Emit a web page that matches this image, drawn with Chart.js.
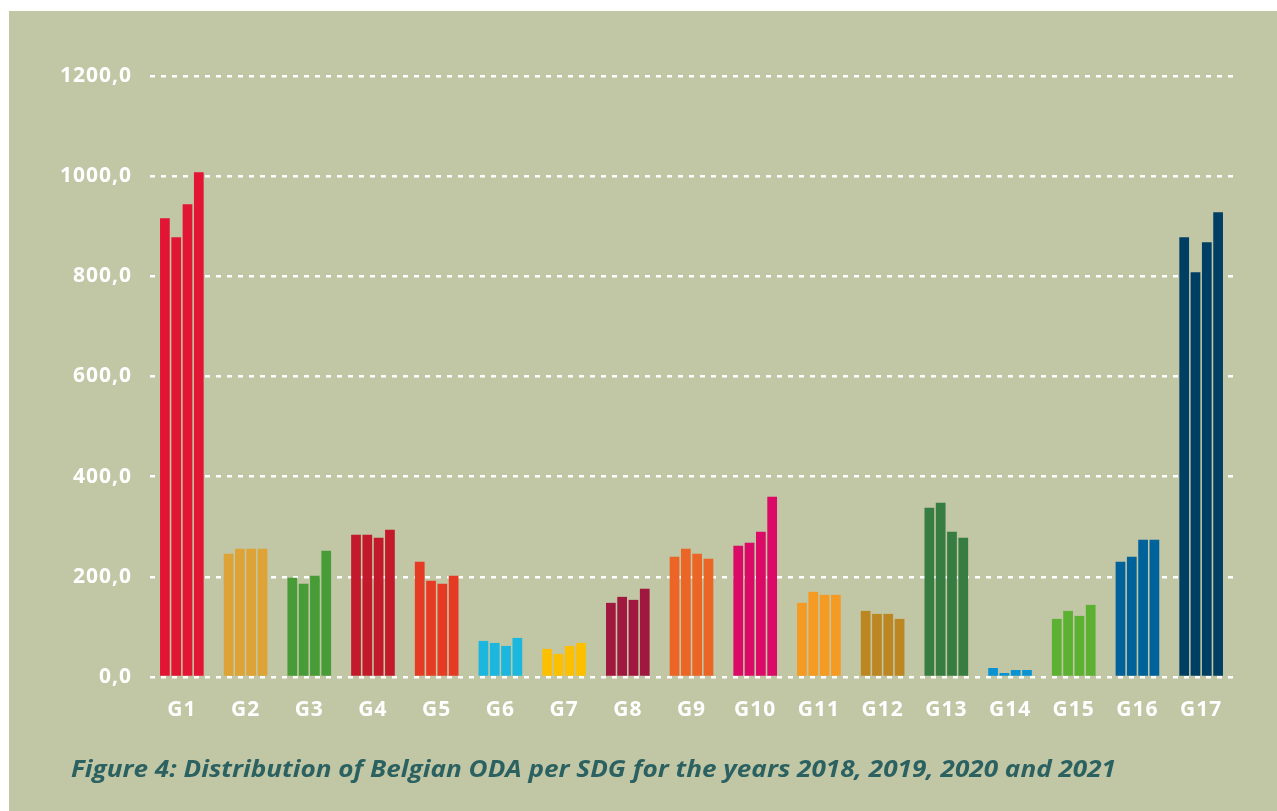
<!DOCTYPE html>
<html>
<head>
<meta charset="utf-8">
<script src="https://cdn.jsdelivr.net/npm/chart.js@4.4.1/dist/chart.umd.min.js"></script>
<style>
  html, body { margin: 0; padding: 0; background: #ffffff; width: 1277px; height: 811px; overflow: hidden; }
  #panel { position: absolute; left: 9px; top: 11px; width: 1268px; height: 800px; background: #c1c6a5; }
  #c { position: absolute; left: 0; top: 0; }
  #title { position: absolute; left: 71px; top: 753px; white-space: nowrap; transform-origin: 0 0;
           font-family: "Open Sans", Lato, sans-serif; font-weight: 700; font-style: italic;
           font-size: 24px; line-height: 30px; color: #2b6160; }
</style>
</head>
<body>
<div id="panel"></div>
<canvas id="c" width="1277" height="811"></canvas>
<div id="title">Figure 4: Distribution of Belgian ODA per SDG for the years 2018, 2019, 2020 and 2021</div>
<script>
const categories = ['G1','G2','G3','G4','G5','G6','G7','G8','G9','G10','G11','G12','G13','G14','G15','G16','G17'];
const years = ['2018','2019','2020','2021'];
const values2018 = [916, 246, 198, 284, 230, 72, 56, 148, 240, 262, 148, 132, 338, 18, 116, 230, 878];
const values2019 = [878, 256, 186, 284, 192, 68, 46, 160, 256, 268, 170, 126, 348, 8, 132, 240, 808];
const values2020 = [944, 256, 202, 278, 186, 62, 62, 154, 246, 290, 164, 126, 290, 14, 122, 274, 868];
const values2021 = [1008, 256, 252, 294, 202, 78, 68, 176, 236, 360, 164, 116, 278, 14, 144, 274, 928];
const sdgColors = ['#e31535','#dda336','#489c37','#c21a2b','#e53b24','#1bb7de','#fcc000','#a0173f','#ea6526',
                   '#da0a66','#f59a23','#bc8723','#377c40','#0a93d3','#5db132','#00629b','#003f64'];
const yMin = 0, yMax = 1200, yStep = 200;

const seriesValues = [values2018, values2019, values2020, values2021];

const spacingPlugin = {
  id: 'spacing',
  beforeDraw(chart) { chart.ctx.letterSpacing = '1px'; }
};

new Chart(document.getElementById('c'), {
  type: 'bar',
  data: {
    labels: categories,
    datasets: years.map((y, i) => ({
      label: y,
      data: seriesValues[i],
      backgroundColor: sdgColors,
      borderWidth: 0,
      categoryPercentage: 0.71,
      barPercentage: 0.86
    }))
  },
  options: {
    responsive: false,
    devicePixelRatio: 1,
    animation: false,
    layout: { padding: { left: 0, right: 44, top: 76, bottom: 84 } },
    plugins: { legend: { display: false }, tooltip: { enabled: false } },
    scales: {
      x: {
        grid: { display: false, drawTicks: false },
        border: { display: false },
        ticks: { color: '#ffffff', padding: 20, font: { family: 'Open Sans', weight: 'bold', size: 21 } },
        afterFit(s) { s.height = 50; }
      },
      y: {
        min: yMin, max: yMax,
        grid: { color: '#ffffff', lineWidth: 2.5, drawTicks: false },
        border: { display: false, dash: [5, 6] },
        ticks: {
          stepSize: yStep, color: '#ffffff', padding: 18,
          font: { family: 'Open Sans', weight: 'bold', size: 21 },
          callback: v => v.toFixed(1).replace('.', ',')
        },
        afterFit(s) { s.width = 150; }
      }
    }
  },
  plugins: [spacingPlugin]
});

// fit the caption to the width it has in the figure
const t = document.getElementById('title');
const w = t.getBoundingClientRect().width;
t.style.transform = 'scaleX(' + (1045 / w) + ')';
</script>
</body>
</html>
